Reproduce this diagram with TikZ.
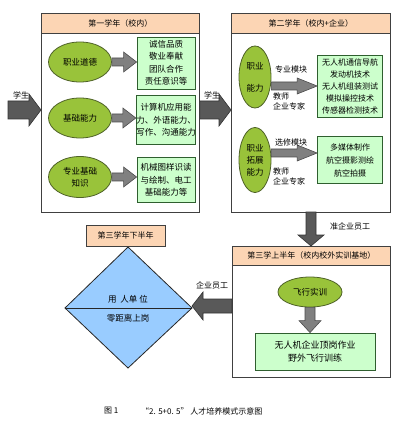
\documentclass[tikz,border=0pt]{standalone}
\usepackage{fontspec}
\setmainfont{Noto Sans CJK SC}
\usetikzlibrary{calc}
\definecolor{peach}{HTML}{FCD5B4}
\definecolor{lgreen}{HTML}{CCFFCC}
\definecolor{dgreen}{HTML}{2F5F2F}
\definecolor{olive}{HTML}{99C33A}
\definecolor{oliveb}{HTML}{4F6228}
\definecolor{lblue}{HTML}{99CCFF}
\definecolor{agray}{HTML}{808080}
\definecolor{dgray}{HTML}{595959}
\tikzset{
  outerbox/.style={draw=black!75, line width=0.9pt, anchor=north west, inner sep=0pt},
  headbox/.style={draw=black!75, line width=0.9pt, fill=peach, anchor=north west, inner sep=0pt, font=\fontsize{8}{10}\selectfont},
  ell/.style={ellipse, draw=oliveb, line width=0.8pt, fill=olive, inner sep=0pt, align=center, font=\fontsize{8.5}{12}\selectfont},
  gbox/.style={draw=dgreen, line width=0.8pt, fill=lgreen, inner sep=0pt, align=center, font=\fontsize{8.5}{12.5}\selectfont},
  lbl/.style={inner sep=0pt, font=\fontsize{8}{10}\selectfont, align=center},
  blk/.style={fill=agray, draw=black!70, line width=0.6pt, line join=miter},
  dblk/.style={fill=dgray, draw=black!80, line width=0.6pt, line join=miter},
}
\usetikzlibrary{shapes.geometric}
% horizontal right arrow: #2 start, #3 end (x), #4 shaft half, #5 head half, #6 head length
\newcommand\rblk[6][blk]{\draw[#1] let \p1=(#2), \p2=(#3) in
  (\x1,\y1+#4) -- (\x2-#6,\y1+#4) -- (\x2-#6,\y1+#5) -- (\x2,\y1) -- (\x2-#6,\y1-#5) -- (\x2-#6,\y1-#4) -- (\x1,\y1-#4) -- cycle;}
% horizontal left arrow
\newcommand\lblk[6][blk]{\draw[#1] let \p1=(#2), \p2=(#3) in
  (\x1,\y1+#4) -- (\x2+#6,\y1+#4) -- (\x2+#6,\y1+#5) -- (\x2,\y1) -- (\x2+#6,\y1-#5) -- (\x2+#6,\y1-#4) -- (\x1,\y1-#4) -- cycle;}
% downward arrow
\newcommand\dblk[6][blk]{\draw[#1] let \p1=(#2), \p2=(#3) in
  (\x1+#4,\y1) -- (\x1+#4,\y2+#6) -- (\x1+#5,\y2+#6) -- (\x1,\y2) -- (\x1-#5,\y2+#6) -- (\x1-#4,\y2+#6) -- (\x1-#4,\y1) -- cycle;}
\begin{document}
\begin{tikzpicture}[x=1pt,y=-1pt]
\useasboundingbox[fill=white] (0,0) rectangle (400,427);

% ---------- Year 1 ----------
\node[outerbox, minimum width=158pt, minimum height=199pt] (b1) at (41,13) {};
\node[headbox, minimum width=158pt, minimum height=20pt] (h1) at (41,13) {第一学年（校内）};
\node[ell, minimum width=63pt, minimum height=40pt] (e1) at (80,62) {职业道德};
\node[ell, minimum width=63pt, minimum height=40pt] (e2) at (80,118) {基础能力};
\node[ell, minimum width=63pt, minimum height=41pt] (e3) at (80,177) {专业基础\\知识};
\node[gbox, minimum width=58pt, minimum height=52pt] (g1) at (166,63) {诚信品质\\敬业奉献\\团队合作\\责任意识等};
\node[gbox, minimum width=58pt, minimum height=49pt] (g2) at (166,120) {计算机应用能\\力、外语能力、\\写作、沟通能力};
\node[gbox, minimum width=58pt, minimum height=45pt] (g3) at (166,180) {机械图样识读\\与绘制、电工\\基础能力等};
\coordinate (a1s) at (e1.east); \coordinate (a1e) at (g1.west);
\rblk{a1s}{a1e}{4pt}{10pt}{13pt}
\coordinate (a2s) at (e2.east); \coordinate (a2e) at (g2.west);
\rblk{a2s}{a2e}{4pt}{10pt}{13pt}
\coordinate (a3s) at (e3.east); \coordinate (a3e) at (g3.west);
\rblk{a3s}{a3e}{4pt}{10pt}{13pt}

% student arrows
\coordinate (s1s) at (8,110); \coordinate (s1e) at (b1.west |- s1s);
\rblk[dblk]{s1s}{s1e}{9pt}{16pt}{12pt}
\node[lbl] (ls1) at (21,95) {学生};

% ---------- Year 2 ----------
\node[outerbox, minimum width=159pt, minimum height=199pt] (b2) at (231,13) {};
\node[headbox, minimum width=159pt, minimum height=20pt] (h2) at (231,13) {第二学年（校内+企业）};
\coordinate (s2s) at (b1.east |- s1s); \coordinate (s2e) at (b2.west |- s1s);
\rblk[dblk]{s2s}{s2e}{9pt}{16pt}{12pt}
\node[lbl] (ls2) at (212,95) {学生};

\node[ell, minimum width=32pt, minimum height=62pt] (e4) at (255,77) {职业\\[10pt]能力};
\node[ell, minimum width=32pt, minimum height=65pt] (e5) at (255,160) {职业\\拓展\\能力};
\node[gbox, minimum width=65pt, minimum height=62pt, font=\fontsize{8}{12}\selectfont] (g4) at (350,86) {无人机通信导航\\发动机技术\\无人机组装测试\\模拟操控技术\\传感器检测技术};
\node[gbox, minimum width=65pt, minimum height=47pt, font=\fontsize{8}{13}\selectfont] (g5) at (350,160) {多媒体制作\\航空摄影测绘\\航空拍摄};
\coordinate (a4s) at (e4.east |- g4.west); \coordinate (a4e) at (g4.west);
\rblk{a4s}{a4e}{4pt}{8pt}{20pt}
\coordinate (a5s) at (e5.east |- 0,153); \coordinate (a5e) at (g5.west |- 0,153);
\rblk{a5s}{a5e}{4pt}{8pt}{20pt}
\node[lbl] (m1) at (291,69) {专业模块};
\node[lbl, align=left] (m2) at (289,101) {教师\\企业专家};
\node[lbl] (m3) at (291,142) {选修模块};
\node[lbl, align=left] (m4) at (289,176) {教师\\企业专家};

% ---------- Year 3 first half ----------
\node[outerbox, minimum width=158pt, minimum height=131pt] (b3) at (232,246) {};
\node[headbox, minimum width=158pt, minimum height=19pt] (h3) at (232,246) {第三学上半年（校内校外实训基地）};
\coordinate (d1s) at (311,212); \coordinate (d1e) at (311,246);
\dblk[dblk]{d1s}{d1e}{5pt}{13pt}{11pt}
\node[lbl] (lq) at (350,226) {准企业员工};

\node[ell, minimum width=64pt, minimum height=30pt] (e6) at (310,292) {飞行实训};
\node[gbox, minimum width=120pt, minimum height=37pt, font=\fontsize{9}{13}\selectfont] (g6) at (315,351.5) {无人机企业顶岗作业\\野外飞行训练};
\coordinate (d2s) at (e6.south); \coordinate (d2e) at (e6.south |- g6.north);
\dblk{d2s}{d2e}{5pt}{11pt}{12pt}

% ---------- Year 3 second half ----------
\coordinate (dT) at (128,247);
\coordinate (dL) at (65,308);
\coordinate (dR) at (192,308);
\coordinate (dB) at (128,368);
\draw[fill=lblue, draw=black!85, line width=0.8pt] (dT) -- (dR) -- (dB) -- (dL) -- cycle;
\draw[black!85, line width=0.8pt] (dL) -- (dR);
\node[lbl, font=\fontsize{8.5}{10}\selectfont] (u1) at (128,299) {用\ \ 人单\ 位};
\node[lbl, font=\fontsize{8.5}{10}\selectfont] (u2) at (128,318) {零距离上岗};
\node[headbox, anchor=center, minimum width=79pt, minimum height=21pt] (h4) at (125.5,235.5) {第三学年下半年};

\coordinate (l1s) at (b3.west |- 0,306); \coordinate (l1e) at (dR);
\lblk[dblk]{l1s}{l1e}{7pt}{14pt}{11pt}
\node[lbl] (lq2) at (212,285) {企业员工};

% caption
\node[lbl, anchor=west, font=\fontsize{8}{10}\selectfont] (c1) at (104,411) {图 1};
\node[lbl, anchor=west, font=\fontsize{8}{10}\selectfont] (c2) at (141,411) {“2. 5+0. 5” 人才培养模式示意图};
\end{tikzpicture}
\end{document}
